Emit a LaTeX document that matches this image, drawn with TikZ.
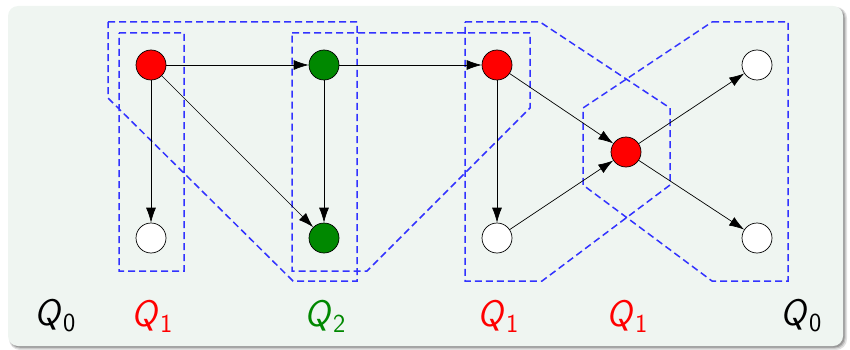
\documentclass[tikz,border=0pt]{standalone}
\usetikzlibrary{arrows.meta}
\definecolor{panel}{RGB}{239,245,241}
\definecolor{qblue}{RGB}{50,50,255}
\definecolor{qgreen}{RGB}{0,136,0}
% sans-serif Q with an upright subscript digit
\newcommand{\qname}[1]{\textsl{Q}\kern0.5pt\raisebox{-6pt}{\fontsize{26}{28}\selectfont\upshape #1}}
\begin{document}
\begin{tikzpicture}[x=1pt,y=-1pt,
  vtx/.style={circle,draw=black,line width=0.7pt,minimum size=30pt,inner sep=0pt},
  redv/.style={vtx,fill=red},
  greenv/.style={vtx,fill=qgreen},
  whitev/.style={vtx,fill=white},
  arr/.style={-{Latex[length=15pt,width=10pt]},line width=0.7pt},
  region/.style={qblue,line width=1.5pt,dash pattern=on 7pt off 4pt},
  lab/.style={font=\fontsize{37}{40}\selectfont\sffamily,inner sep=0pt}]
\useasboundingbox (0,0) rectangle (850,350);
% soft shadow behind the panel, then the panel
\fill[black!12,rounded corners=11pt] (9,7) rectangle (847,350);
\fill[black!25,rounded corners=10pt] (9.5,7.5) rectangle (845.5,348.5);
\fill[black!40,rounded corners=10pt] (10,8) rectangle (844.5,347.5);
\fill[panel,rounded corners=10pt] (8,6) rectangle (843,346);

% dashed partition regions, stroked as one path
\draw[region]
  (119,33) -- (184,33) -- (184,271) -- (119,271) -- cycle
  (108,22) -- (357,22) -- (357,281) -- (293,281) -- (108,98) -- cycle
  (292,33) -- (530,33) -- (530,108) -- (367,271) -- (292,271) -- cycle
  (465,22) -- (540,22) -- (670,108) -- (670,185) -- (542,281) -- (465,281) -- cycle
  (712,22) -- (788,22) -- (788,281) -- (712,281) -- (583,185) -- (583,108) -- cycle;

% vertices
\node[redv]   (A) at (151,65)  {};
\node[whitev] (B) at (151,238) {};
\node[greenv] (C) at (324,65)  {};
\node[greenv] (D) at (324,238) {};
\node[redv]   (E) at (497,65)  {};
\node[whitev] (F) at (497,238) {};
\node[redv]   (G) at (626,152) {};
\node[whitev] (H) at (757,65)  {};
\node[whitev] (I) at (757,238) {};

% edges
\draw[arr] (A) -- (C);
\draw[arr] (A) -- (B);
\draw[arr] (A) -- (D);
\draw[arr] (C) -- (D);
\draw[arr] (C) -- (E);
\draw[arr] (E) -- (F);
\draw[arr] (E) -- (G);
\draw[arr] (F) -- (G);
\draw[arr] (G) -- (H);
\draw[arr] (G) -- (I);

% class labels
\node[lab,text=black] (q0a) at (55,316)  {\qname{0}};
\node[lab,text=red]   (q1a) at (152,316) {\qname{1}};
\node[lab,text=qgreen](q2)  at (325,316) {\qname{2}};
\node[lab,text=red]   (q1b) at (498,316) {\qname{1}};
\node[lab,text=red]   (q1c) at (627,316) {\qname{1}};
\node[lab,text=black] (q0b) at (801,316) {\qname{0}};
\end{tikzpicture}
\end{document}
